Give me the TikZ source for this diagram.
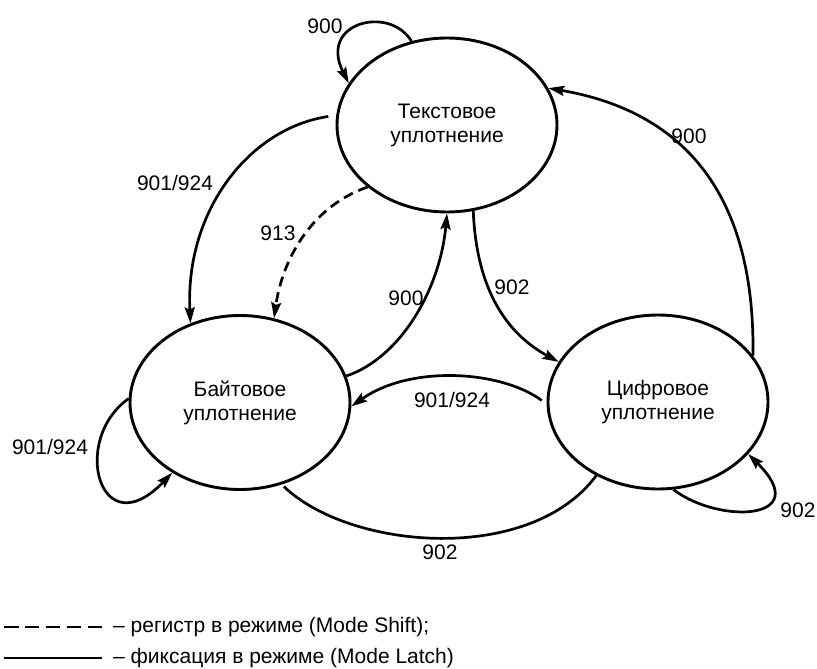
\documentclass[tikz,border=0pt]{standalone}
\usepackage{fontspec}
\setmainfont{Liberation Sans}
\usetikzlibrary{shapes.geometric,arrows.meta}
\tikzset{
  state/.style={ellipse,draw,line width=2.9pt,minimum width=220pt,minimum height=174pt,
    inner sep=0pt,align=center,font=\fontsize{21}{24}\selectfont},
  conn/.style={line width=2.7pt},
  arr/.style={conn,-{Stealth[length=16pt,width=10pt,inset=2.5pt]}},
  lbl/.style={font=\fontsize{21}{24}\selectfont,inner sep=0pt},
  shiftline/.style={conn,dash pattern=on 14.5pt off 6.4pt},
  legtext/.style={font=\fontsize{21}{24}\selectfont,inner sep=0pt,anchor=base west},
}
\begin{document}
\begin{tikzpicture}[x=1pt,y=-1pt]
\useasboundingbox (0,0) rectangle (817,669);

% states
\node[state] (T) at (447,125) {Текстовое\\уплотнение};
\node[state] (B) at (240,402.5) {Байтовое\\уплотнение};
\node[state] (D) at (658,402) {Цифровое\\уплотнение};

% self loop on T (900)
\draw[arr] (T.113) .. controls (390,5) and (318,22) .. (T.157);
% T -> B (901/924)
\draw[arr,shorten <=8pt] (T.175) .. controls (250,128) and (185,210) .. (B.122);
% T -> B dashed (913)
\draw[arr,dash pattern=on 10pt off 6pt] (T.218) .. controls (315,205) and (283,255) .. (B.68);
% B -> T (900)
\draw[arr] (B.14) .. controls (400,358) and (440,290) .. (T.270);
% T -> D (902)
\draw[arr] (T.287) .. controls (476,280) and (500,330) .. (D.158);
% D -> T (900)
\draw[arr] (D.26) .. controls (755,220) and (705,115) .. (T.20);
% D -> B (901/924)
\draw[arr,shorten <=6pt] (D.181) .. controls (500,370) and (410,365) .. (B.358);
% B -- D (902), no arrow head
\draw[conn,shorten <=3pt] (B.297) .. controls (350,550) and (530,565) .. (D.230);
% self loop on B (901/924)
\draw[arr] (B.178) .. controls (70,440) and (100,548) .. (B.226);
% self loop on D (902)
\draw[arr] (D.280) .. controls (720,525) and (815,520) .. (D.330);

% labels
\node[lbl] (l1) at (325,26) {900};
\node[lbl] (l2) at (175,183) {901/924};
\node[lbl] (l3) at (278,233) {913};
\node[lbl] (l4) at (406,298) {900};
\node[lbl] (l5) at (512,287) {902};
\node[lbl] (l6) at (689,136) {900};
\node[lbl] (l7) at (452,400) {901/924};
\node[lbl] (l8) at (440,552) {902};
\node[lbl] (l9) at (50,447) {901/924};
\node[lbl] (l10) at (798,510) {902};

% legend
\coordinate (s1) at (4,627);
\coordinate (s2) at (102,627);
\coordinate (m1) at (4,658);
\coordinate (m2) at (102,658);
\draw[shiftline] (s1) -- (s2);
\draw[conn] (m1) -- (m2);
\node[legtext] (t1) at (113,632) {– регистр в режиме (Mode Shift);};
\node[legtext] (t2) at (113,663) {– фиксация в режиме (Mode Latch)};
\end{tikzpicture}
\end{document}
